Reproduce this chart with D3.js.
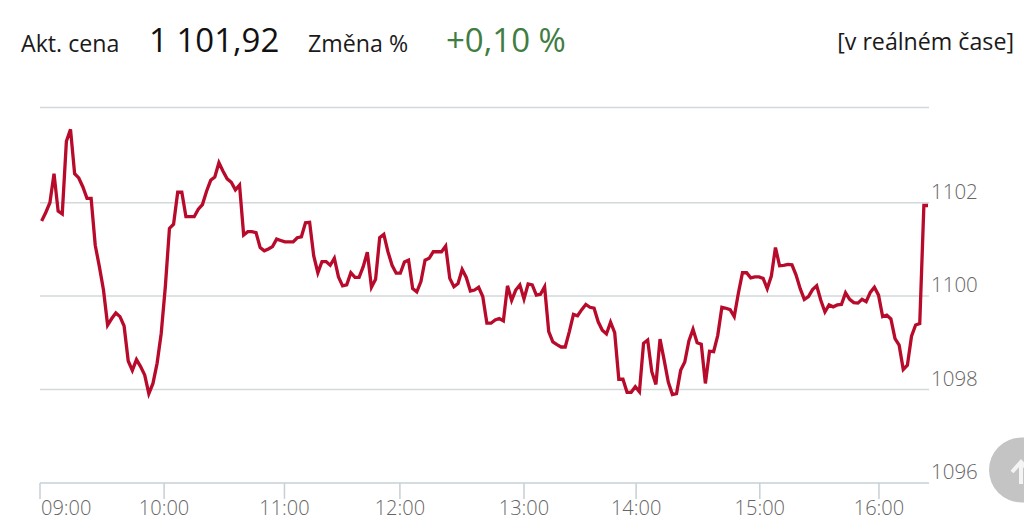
<!DOCTYPE html>
<html><head><meta charset="utf-8">
<script src="https://cdn.jsdelivr.net/npm/d3@7"></script>
<style>
html,body{margin:0;padding:0;background:#fff;overflow:hidden}
svg{display:block}
text{font-family:"Open Sans",sans-serif}
</style></head><body>
<svg id="c" width="1024" height="530"></svg>
<script>
const prices = [
1101.61,1101.79,1102.00,1102.61,1101.82,1101.76,1103.29,1103.54,1102.61,1102.52,1102.33,1102.09,1102.09,1101.09,1100.63,1100.13,1099.38,1099.52,1099.64,1099.56,1099.36,1098.61,1098.41,1098.64,1098.49,1098.31,1097.91,1098.13,1098.56,1099.20,1100.20,1101.45,1101.54,1102.22,1102.22,1101.70,1101.70,1101.70,1101.86,1101.96,1102.24,1102.47,1102.54,1102.84,1102.66,1102.50,1102.43,1102.27,1102.37,1101.31,1101.38,1101.38,1101.36,1101.04,1100.97,1101.01,1101.06,1101.22,1101.19,1101.16,1101.16,1101.16,1101.25,1101.27,1101.57,1101.58,1100.86,1100.50,1100.74,1100.74,1100.66,1100.81,1100.41,
1100.22,1100.24,1100.50,1100.40,1100.40,1100.63,1100.94,1100.19,1100.36,1101.25,1101.32,1100.95,1100.66,1100.49,1100.49,1100.73,1100.77,1100.16,1100.09,1100.31,1100.77,1100.81,1100.95,1100.95,1100.95,1101.07,1100.38,1100.20,1100.27,1100.57,1100.40,1100.11,1100.13,1100.19,1099.99,1099.42,1099.42,1099.49,1099.52,1099.47,1100.22,1099.91,1100.13,1100.24,1099.94,1100.26,1100.24,1100.02,1100.04,1100.20,1099.24,1099.02,1098.96,1098.91,1098.91,1099.24,1099.61,1099.58,1099.71,1099.82,1099.76,1099.74,1099.45,1099.27,1099.19,1099.44,1099.22,1098.22,1098.22,1097.94,1097.94,1098.06,1097.95,1098.99,1099.06,1098.38,1098.11,1099.08,1098.63,1098.16,1097.89,1097.91,
1098.41,1098.59,1099.04,1099.29,1099.00,1098.97,1098.13,1098.82,1098.81,1099.16,1099.76,1099.74,1099.71,1099.56,1100.06,1100.50,1100.50,1100.39,1100.41,1100.41,1100.38,1100.16,1100.43,1101.04,1100.65,1100.66,1100.68,1100.67,1100.45,1100.16,1099.93,1099.99,1100.14,1100.22,1099.91,1099.66,1099.81,1099.77,1099.81,1099.82,1100.07,1099.93,1099.86,1099.85,1099.93,1099.88,1100.08,1100.19,1100.02,1099.56,1099.59,1099.51,1099.09,1098.95,1098.43,1098.52,1099.14,1099.38,1099.41,1101.94,1101.94];
const xTickLabels = ["09:00","10:00","11:00","12:00","13:00","14:00","15:00","16:00"];
const xTickIndex = [-0.4,29.7,58.9,86.9,117,144.2,174.2,203.1];
const yTicks = [1096,1098,1100,1102,1104];
const yLabelled = [1096,1098,1100,1102];

const svg = d3.select("#c");
const x = d3.scaleLinear().domain([-0.4, prices.length-1]).range([40, 928]);
const y = d3.scaleLinear().domain([1096,1102,1104]).range([482.9,202.7,107.5]);
const gridColor = "#d3d8da", axisColor = "#c5d0d6", labelColor = "#666";

// Header
const head = [
 {t:"Akt. cena", x:21, y:52, s:23.2, f:"#1a1a1a"},
 {t:"1 101,92", x:149, y:52, s:33, f:"#111"},
 {t:"Změna %", x:308, y:52, s:23.2, f:"#1a1a1a"},
 {t:"+0,10 %", x:446, y:52, s:33, f:"#3f7d42"}
];
svg.selectAll("text.head").data(head).join("text").attr("class","head")
 .attr("x",d=>d.x).attr("y",d=>d.y).attr("font-size",d=>d.s).attr("fill",d=>d.f).text(d=>d.t);
svg.append("text").attr("x",1014).attr("y",50).attr("text-anchor","end")
 .attr("font-size",23.2).attr("fill","#1a1a1a").text("[v reálném čase]");

// Grid
svg.append("g").selectAll("line").data(yTicks.filter(d=>d!==1096)).join("line")
 .attr("x1",40).attr("x2",929).attr("y1",d=>y(d)).attr("y2",d=>y(d))
 .attr("stroke",gridColor).attr("stroke-width",1.5);

// X axis
svg.append("line").attr("x1",40).attr("x2",929).attr("y1",y(1096)).attr("y2",y(1096))
 .attr("stroke",axisColor).attr("stroke-width",1.5);
svg.append("g").selectAll("line").data(xTickIndex).join("line")
 .attr("x1",d=>x(d)).attr("x2",d=>x(d)).attr("y1",y(1096)).attr("y2",y(1096)+16)
 .attr("stroke",axisColor).attr("stroke-width",1.5);
svg.append("g").selectAll("text").data(xTickLabels).join("text")
 .attr("x",(d,i)=>i===0?41:x(xTickIndex[i]))
 .attr("y",514.5).attr("text-anchor",(d,i)=>i===0?"start":"middle")
 .attr("font-size",20).attr("font-weight",300).attr("fill",labelColor).text(d=>d);

// Y labels
svg.append("g").selectAll("text").data(yLabelled).join("text")
 .attr("x",931).attr("y",d=>y(d)-4).attr("font-size",20.5).attr("font-weight",300)
 .attr("fill",labelColor).text(d=>d);

// Line
const line = d3.line().x((d,i)=>x(i)).y(d=>y(d));
svg.append("path").datum(prices).attr("d",line).attr("fill","none")
 .attr("stroke","#b80a2b").attr("stroke-width",3.3).attr("stroke-linejoin","miter").attr("stroke-miterlimit",4);

// Scroll-to-top button
svg.append("circle").attr("cx",1021.5).attr("cy",470).attr("r",32.5).attr("fill","#c4c4c4");
svg.append("path").attr("d","M1012 472L1021 462L1030 472M1021 463V484").attr("fill","none")
 .attr("stroke","#f4f4f4").attr("stroke-width",4);
</script>
</body></html>
